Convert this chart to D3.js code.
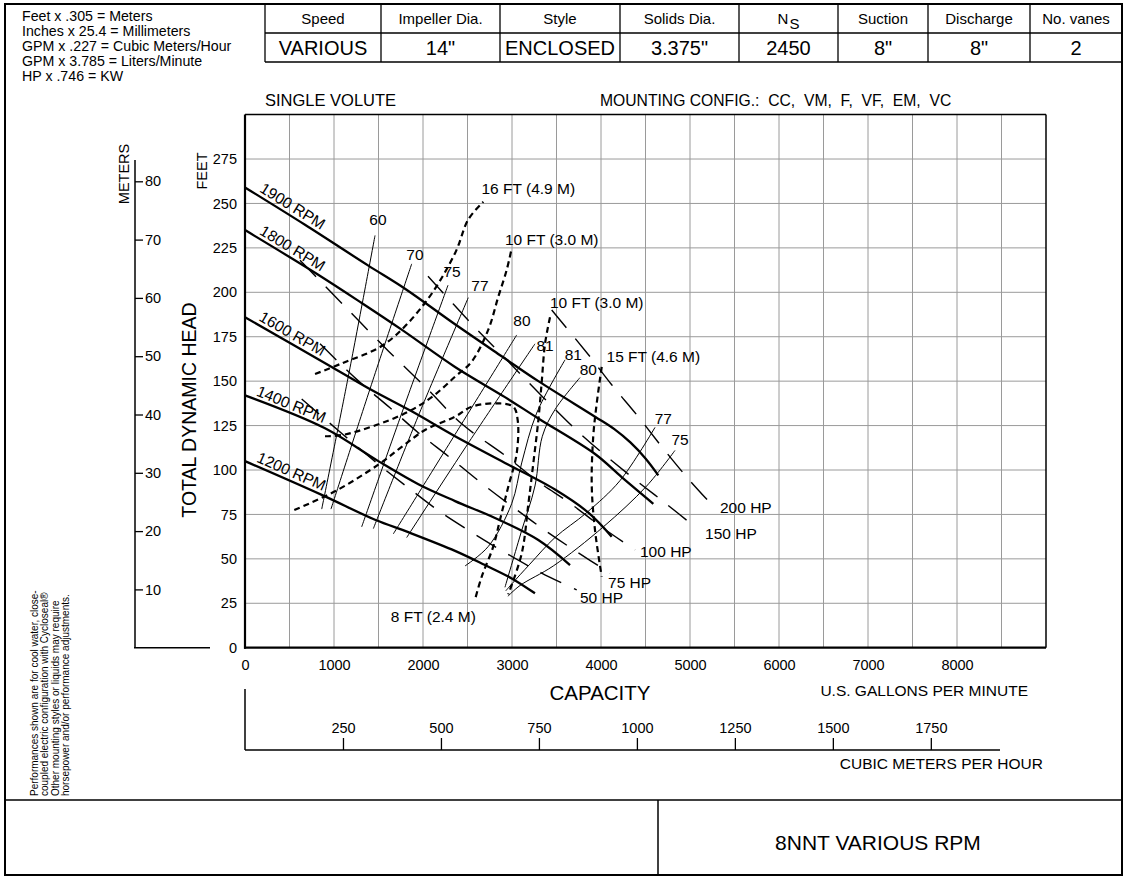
<!DOCTYPE html>
<html>
<head>
<meta charset="utf-8">
<script src="https://cdn.jsdelivr.net/npm/d3@7"></script>
<style>
  body { margin: 0; background: #fff; }
  svg { font-family: "Liberation Sans", Arial, sans-serif; }
</style>
</head>
<body>
<svg id="chart" width="1127" height="879"></svg>
<script>
// ---- data (GPM, feet) ----
var gpmTicks = [0, 1000, 2000, 3000, 4000, 5000, 6000, 7000, 8000];
var feetTicks = [0, 25, 50, 75, 100, 125, 150, 175, 200, 225, 250, 275];
var meterTicks = [10, 20, 30, 40, 50, 60, 70, 80];
var cmhTicks = [250, 500, 750, 1000, 1250, 1500, 1750];

var rpm1900 = [[0,259],[674,238],[1386,215],[1798,202],[2360,182],[2884,164],[3296,150],[3933,130],[4150,123],[4330,115.5],[4500,106.5],[4644,97]];
var rpm1800 = [[0,235],[787,211],[1311,194],[1760,179],[2360,158],[2921,141],[3296,129],[3933,109],[4232,96],[4588,81]];
var rpm1600 = [[0,186],[974,158],[1423,145],[1873,133],[2360,119],[2921,104],[3483,89],[3858,76],[4120,62.5]];
var rpm1400 = [[0,142],[899,123.5],[1498,105],[1948,92],[2360,82.5],[2809,73],[3296,60.6],[3652,46.5]];
var rpm1200 = [[0,105],[862,86],[1461,72],[1835,65],[2360,54.5],[2697,46.5],[2997,39],[3258,30.6]];
var rpmNames = ["1900 RPM", "1800 RPM", "1600 RPM", "1400 RPM", "1200 RPM"];

// efficiency lines
var eff60 = [[1461,232],[1170,155],[862,78]];
var eff70 = [[1873,216],[1420,148],[966,78]];
var eff75 = [[2281,204],[1790,136],[1311,68]];
var eff77 = [[2509,197],[1960,132],[1442,67]];
var eff80L = [[3053,176],[2360,120],[1666,64]];
var eff81L = [[3258,171],[2520,116],[1817,62]];
var eff81R = [[3596,162],[3277,132],[3109,104],[2996,81],[2734,57],[2472,46]];
var eff80R = [[3764,152],[3483,134],[3341,119],[3258,91],[3109,66],[2921,34]];
var eff77R = [[4607,124],[4213,94],[3839,76],[3483,62],[3200,47],[3000,36],[2930,32]];
var eff75R = [[4831,111],[4513,91],[4026,68],[3464,46],[3090,35],[2955,29]];
var effLabels = [["60",1494,240.7],["70",1910,221],["75",2326,211.4],["77",2640,204],["80",3112,184.3],
                 ["81",3371,170.3],["81",3689,164.7],["80",3857,156.3],["77",4700,129],["75",4888,116.9]];

// NPSH required
var npsh16 = [[787,154],[1087,160],[1573,171],[2022,194],[2360,222],[2509,241],[2678,251]];
var npsh10a = [[899,119],[1124,120],[1761,131],[2098,141],[2360,152.5],[2547,161],[2734,179],[2846,197.5],[2940,212.5],[2989,223]];
var npsh8 = [[554,77.5],[1011,88],[1498,103],[1761,113],[2022,122.5],[2360,130],[2547,135.6],[2846,137.5],[3015,135.6],
             [3064,128],[3053,109.4],[2958,90.6],[2865,72],[2790,57],[2660,40],[2584,27]];
var npsh10b = [[3427,186],[3371,171],[3333,149],[3296,128],[3240,104],[3184,81],[3109,53],[2958,30]];
var npsh15 = [[4008,158],[3952,137.5],[3913,119],[3896,91],[3933,66],[4008,40]];
var npshLabels = [["16 FT (4.9 M)",3183,258.5],["10 FT (3.0 M)",3446,229.8],["10 FT (3.0 M)",3952,194.1],
                  ["15 FT (4.6 M)",4588,163.8],["8 FT (2.4 M)",2116,17.4]];

// horsepower
var hp200 = [[3446,190],[3857,165],[4120,148],[4419,130],[4700,112],[4981,95],[5281,78.5]];
var hp150 = [[2056,209],[2551,182],[2921,163],[3348,141],[3798,119],[4348,96],[4719,81.5],[5079,67]];
var hp100 = [[618,218],[1104,193],[1610,167],[2042,146],[2435,126],[2940,107.5],[3296,93.4],[3652,81.3],[4026,67.2],[4382,55]];
var hp75 = [[843,171],[1255,151],[1629,135],[1947,121],[2303,107],[2660,92.5],[3015,79],[3371,66],[3727,54],[4101,42]];
var hp50 = [[637,140],[1124,119],[1480,104],[1835,90],[2191,76.5],[2565,64.4],[2940,53],[3333,42],[3727,32.5]];
var hpLabels = [["200 HP",5337,78.6],["150 HP",5169,64.4],["100 HP",4438,54],["75 HP",4079,36.6],["50 HP",3764,28]];

var tableHeads = ["Speed","Impeller Dia.","Style","Solids Dia.","N","Suction","Discharge","No. vanes"];
var tableVals = ["VARIOUS","14\"","ENCLOSED","3.375\"","2450","8\"","8\"","2"];
var conversions = ["Feet x .305 = Meters","Inches x 25.4 = Millimeters","GPM x .227 = Cubic Meters/Hour",
                   "GPM x 3.785 = Liters/Minute","HP x .746 = KW"];
var note = ["Performances shown are for cool water, close-","coupled electric configuration with Cycloseal\u00AE",
            "Other mounting styles or liquids may require","horsepower and/or performance adjustments."];

// ---- drawing ----
var svg = d3.select("#chart");
var x = d3.scaleLinear().domain([0, 9000]).range([245, 1046]);
var y = d3.scaleLinear().domain([0, 300]).range([647.7, 114.6]);
var yM = d3.scaleLinear().domain([0, 300 / 3.2808]).range([647.7, 114.6]);
var xC = d3.scaleLinear().domain([0, 9000 * 0.2271]).range([245, 1046]);

// page frame
svg.append("rect").attr("x", 5).attr("y", 4).attr("width", 1117).attr("height", 871)
  .attr("fill", "none").attr("stroke", "#000").attr("stroke-width", 2);
svg.append("line").attr("x1", 5).attr("x2", 1122).attr("y1", 800).attr("y2", 800).attr("stroke", "#000").attr("stroke-width", 1.5);
svg.append("line").attr("x1", 658).attr("x2", 658).attr("y1", 800).attr("y2", 875).attr("stroke", "#000").attr("stroke-width", 1.5);
svg.append("text").attr("x", 878).attr("y", 850).attr("text-anchor", "middle").attr("font-size", 21).text("8NNT VARIOUS RPM");

// table
var colEdges = [265, 381, 500, 620, 739, 838, 928, 1030, 1122];
var tbl = svg.append("g").attr("stroke", "#000").attr("stroke-width", 1.3);
colEdges.forEach(function(cx) { tbl.append("line").attr("x1", cx).attr("x2", cx).attr("y1", 4).attr("y2", 62); });
[33, 62].forEach(function(ry) { tbl.append("line").attr("x1", 265).attr("x2", 1122).attr("y1", ry).attr("y2", ry); });
tableHeads.forEach(function(h, i) {
  var cx = (colEdges[i] + colEdges[i + 1]) / 2;
  var t = svg.append("text").attr("x", cx).attr("y", 24).attr("text-anchor", "middle").attr("font-size", 15).text(h);
  if (h == "N") t.append("tspan").attr("dy", 5).attr("dx", 1).text("S");
  svg.append("text").attr("x", cx).attr("y", 55).attr("text-anchor", "middle").attr("font-size", 20).text(tableVals[i]);
});

conversions.forEach(function(c, i) {
  svg.append("text").attr("x", 22).attr("y", 21 + i * 15).attr("font-size", 14.2).text(c);
});
svg.append("text").attr("x", 265).attr("y", 106).attr("font-size", 16.5).text("SINGLE VOLUTE");
svg.append("text").attr("x", 600).attr("y", 106).attr("font-size", 15.7).attr("xml:space", "preserve")
  .text("MOUNTING CONFIG.:  CC,  VM,  F,  VF,  EM,  VC");

note.forEach(function(n, i) {
  svg.append("text").attr("transform", "translate(" + (38 + i * 10.3) + ",796) rotate(-90)")
    .attr("font-size", 10).text(n);
});

// grid
var grid = svg.append("g").attr("stroke", "#9a9a9a").attr("stroke-width", 1);
d3.range(500, 9000, 500).forEach(function(q) {
  grid.append("line").attr("x1", x(q)).attr("x2", x(q)).attr("y1", y(0)).attr("y2", y(300));
});
d3.range(25, 300, 25).forEach(function(h) {
  grid.append("line").attr("x1", x(0)).attr("x2", x(9000)).attr("y1", y(h)).attr("y2", y(h));
});
svg.append("line").attr("x1", x(0)).attr("x2", x(9000)).attr("y1", y(300)).attr("y2", y(300)).attr("stroke", "#000").attr("stroke-width", 1.5);
svg.append("line").attr("x1", x(9000)).attr("x2", x(9000)).attr("y1", y(0)).attr("y2", y(300)).attr("stroke", "#000").attr("stroke-width", 1.5);
svg.append("line").attr("x1", x(0)).attr("x2", x(0)).attr("y1", y(0) + 1).attr("y2", y(300)).attr("stroke", "#000").attr("stroke-width", 2.2);
svg.append("line").attr("x1", x(0) - 1).attr("x2", x(9000)).attr("y1", y(0)).attr("y2", y(0)).attr("stroke", "#000").attr("stroke-width", 2.2);

// axes
var fmt = d3.format("d");
var yAxis = svg.append("g").attr("transform", "translate(" + x(0) + ",0)")
  .call(d3.axisLeft(y).tickValues(feetTicks).tickSize(0).tickPadding(8).tickFormat(fmt));
var xAxis = svg.append("g").attr("transform", "translate(0," + y(0) + ")")
  .call(d3.axisBottom(x).tickValues(gpmTicks).tickSize(0).tickPadding(12).tickFormat(fmt));
var mAxis = svg.append("g").attr("transform", "translate(135,0)")
  .call(d3.axisRight(yM).tickValues(meterTicks).tickSize(8).tickPadding(2).tickFormat(fmt));
var cAxis = svg.append("g").attr("transform", "translate(0,750)")
  .call(d3.axisTop(xC).tickValues(cmhTicks).tickSize(12).tickPadding(5).tickFormat(fmt));
[yAxis, xAxis, mAxis, cAxis].forEach(function(a) {
  a.select(".domain").remove();
  a.selectAll("text").attr("font-size", 14.5).attr("font-family", null).attr("fill", "#000");
  a.selectAll("line").attr("stroke", "#000").attr("stroke-width", 1.3);
});
svg.append("line").attr("x1", 135).attr("x2", 135).attr("y1", 160).attr("y2", y(0)).attr("stroke", "#000").attr("stroke-width", 1.5);
svg.append("line").attr("x1", 134).attr("x2", 210).attr("y1", y(0)).attr("y2", y(0)).attr("stroke", "#000").attr("stroke-width", 1.5);
svg.append("line").attr("x1", x(0)).attr("x2", 1000).attr("y1", 750).attr("y2", 750).attr("stroke", "#000").attr("stroke-width", 1.5);
svg.append("line").attr("x1", x(0)).attr("x2", x(0)).attr("y1", 689).attr("y2", 750).attr("stroke", "#000").attr("stroke-width", 1.5);

svg.append("text").attr("transform", "translate(129,174) rotate(-90)").attr("text-anchor", "middle").attr("font-size", 14.5).text("METERS");
svg.append("text").attr("transform", "translate(207,171) rotate(-90)").attr("text-anchor", "middle").attr("font-size", 14.5).text("FEET");
svg.append("text").attr("transform", "translate(196,410) rotate(-90)").attr("text-anchor", "middle").attr("font-size", 19.5).text("TOTAL DYNAMIC HEAD");
svg.append("text").attr("x", 600).attr("y", 700).attr("text-anchor", "middle").attr("font-size", 20.5).text("CAPACITY");
svg.append("text").attr("x", 1028).attr("y", 696).attr("text-anchor", "end").attr("font-size", 15.5).text("U.S. GALLONS PER MINUTE");
svg.append("text").attr("x", 1043).attr("y", 769).attr("text-anchor", "end").attr("font-size", 15.5).text("CUBIC METERS PER HOUR");

// curves
var line = d3.line().x(function(d) { return x(d[0]); }).y(function(d) { return y(d[1]); })
  .curve(d3.curveCatmullRom.alpha(0.5));

var effLines = [eff60, eff70, eff75, eff77, eff80L, eff81L, eff81R, eff80R, eff77R, eff75R];
svg.append("g").selectAll("path").data(effLines).enter().append("path")
  .attr("d", line).attr("fill", "none").attr("stroke", "#000").attr("stroke-width", 1);

var hpLines = [hp200, hp150, hp100, hp75, hp50];
svg.append("g").selectAll("path").data(hpLines).enter().append("path")
  .attr("d", line).attr("fill", "none").attr("stroke", "#000").attr("stroke-width", 1.4)
  .attr("stroke-dasharray", "23,14");

var npshLines = [npsh16, npsh10a, npsh8, npsh10b, npsh15];
svg.append("g").selectAll("path").data(npshLines).enter().append("path")
  .attr("d", line).attr("fill", "none").attr("stroke", "#000").attr("stroke-width", 2.2)
  .attr("stroke-dasharray", "6,4");

var rpmLines = [rpm1900, rpm1800, rpm1600, rpm1400, rpm1200];
svg.append("g").selectAll("path").data(rpmLines).enter().append("path")
  .attr("d", line).attr("fill", "none").attr("stroke", "#000").attr("stroke-width", 2.3);

// rotated speed labels sitting on each curve
rpmLines.forEach(function(c, i) {
  var a = Math.atan2(y(c[1][1]) - y(c[0][1]), x(c[1][0]) - x(c[0][0])) * 180 / Math.PI;
  var q = 480, h = c[0][1] + (c[1][1] - c[0][1]) * q / c[1][0];
  svg.append("text").attr("transform", "translate(" + x(q) + "," + y(h) + ") rotate(" + a + ")")
    .attr("text-anchor", "middle").attr("dy", -4).attr("font-size", 15.5).text(rpmNames[i]);
});

function labels(arr, anchor) {
  arr.forEach(function(l) {
    svg.append("text").attr("x", x(l[1])).attr("y", y(l[2])).attr("dy", "0.35em")
      .attr("text-anchor", anchor).attr("font-size", 15.5).text(l[0]);
  });
}
labels(effLabels, "middle");
labels(npshLabels, "middle");
labels(hpLabels, "start");
</script>
</body>
</html>
